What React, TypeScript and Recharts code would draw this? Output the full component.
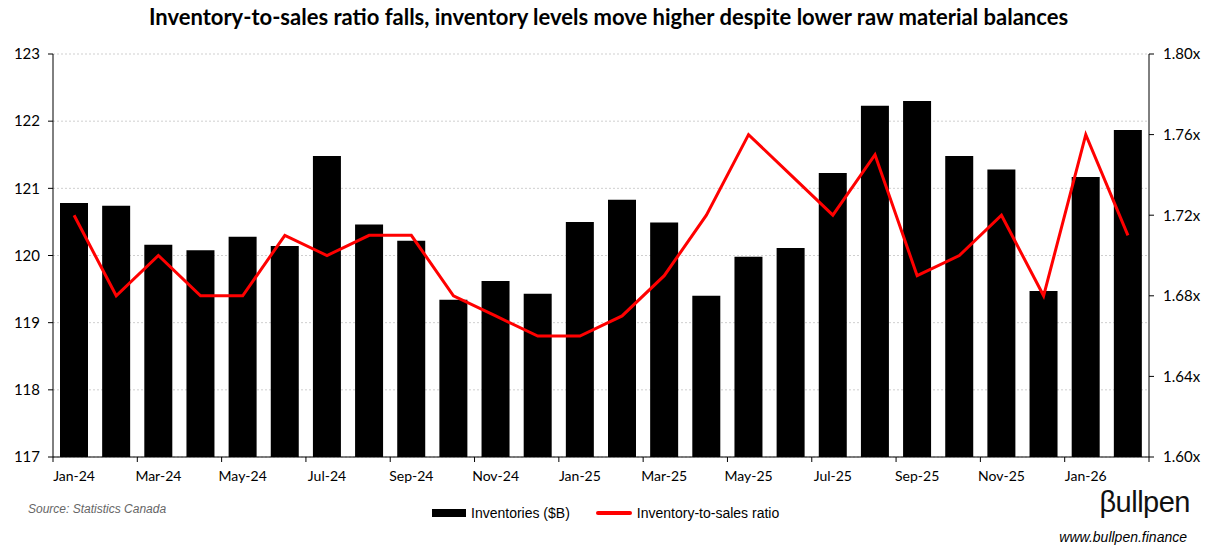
import { ComposedChart, Bar, Line, XAxis, YAxis, CartesianGrid } from 'recharts';

const months = [
  'Jan-24', 'Feb-24', 'Mar-24', 'Apr-24', 'May-24', 'Jun-24', 'Jul-24', 'Aug-24', 'Sep-24', 'Oct-24', 'Nov-24', 'Dec-24',
  'Jan-25', 'Feb-25', 'Mar-25', 'Apr-25', 'May-25', 'Jun-25', 'Jul-25', 'Aug-25', 'Sep-25', 'Oct-25', 'Nov-25', 'Dec-25',
  'Jan-26', 'Feb-26',
];

const inventories = [
  120.78, 120.74, 120.16, 120.08, 120.28, 120.14, 121.48, 120.46, 120.22, 119.34, 119.62, 119.43,
  120.5, 120.83, 120.49, 119.4, 119.98, 120.11, 121.23, 122.23, 122.3, 121.48, 121.28, 119.47,
  121.17, 121.87,
];

const ratio = [
  1.72, 1.68, 1.7, 1.68, 1.68, 1.71, 1.7, 1.71, 1.71, 1.68, 1.67, 1.66,
  1.66, 1.67, 1.69, 1.72, 1.76, 1.74, 1.72, 1.75, 1.69, 1.7, 1.72, 1.68,
  1.76, 1.71,
];

const leftTicks = [117, 118, 119, 120, 121, 122, 123];
const rightTicks = [1.6, 1.64, 1.68, 1.72, 1.76, 1.8];

const data = months.map((m, i) => ({ month: m, inventories: inventories[i], ratio: ratio[i] }));

const PLOT_LEFT = 53;
const PLOT_RIGHT = 1149;
const BAND = (PLOT_RIGHT - PLOT_LEFT) / months.length;

const tickFont = 'Lato, "Open Sans", sans-serif';
const sansFont = '"Liberation Sans", Arial, sans-serif';

// month labels on every other category, tick marks on the category edges (Excel style)
const MonthTick = (props: any) => {
  const { x, y, index, payload } = props;
  const showLabel = index % 2 === 0;
  const last = index === months.length - 1;
  return (
    <g>
      {showLabel && <line x1={x - BAND / 2} x2={x - BAND / 2} y1={y - 8} y2={y - 3} stroke="#000" />}
      {last && <line x1={x + BAND / 2} x2={x + BAND / 2} y1={y - 8} y2={y - 3} stroke="#000" />}
      {showLabel && (
        <text x={x} y={y + 16} textAnchor="middle" fontSize={14} fontFamily={tickFont} fill="#000">
          {payload.value}
        </text>
      )}
    </g>
  );
};

export default function App() {
  return (
    <div style={{ position: 'absolute', left: 0, top: 0, width: 1217, height: 558, background: '#fff' }}>
      <div
        style={{
          position: 'absolute', top: 3, left: 0, width: 1217, textAlign: 'center',
          fontFamily: tickFont, fontWeight: 700, fontSize: 22, color: '#000',
        }}
      >
        Inventory-to-sales ratio falls, inventory levels move higher despite lower raw material balances
      </div>
      <ComposedChart
        width={1217}
        height={558}
        data={data}
        margin={{ top: 54, right: 8, bottom: 71, left: 0 }}
      >
        <CartesianGrid yAxisId="left" vertical={false} stroke="#cfcfcf" strokeDasharray="2 2" />
        <XAxis
          dataKey="month"
          interval={0}
          height={30}
          tickLine={false}
          axisLine={{ stroke: '#000' }}
          tick={<MonthTick />}
        />
        <YAxis
          yAxisId="left"
          width={53}
          domain={[117, 123]}
          ticks={leftTicks}
          tickLine={{ stroke: '#000' }}
          tickSize={5}
          tickMargin={8}
          axisLine={{ stroke: '#000' }}
          tick={{ fontSize: 15, fontFamily: tickFont, fill: '#000' }}
        />
        <YAxis
          yAxisId="right"
          orientation="right"
          width={60}
          domain={[1.6, 1.8]}
          ticks={rightTicks}
          tickFormatter={(v: number) => v.toFixed(2) + 'x'}
          tickLine={{ stroke: '#000' }}
          tickSize={5}
          tickMargin={9}
          axisLine={{ stroke: '#000' }}
          tick={{ fontSize: 15, fontFamily: tickFont, fill: '#000' }}
        />
        <Bar yAxisId="left" dataKey="inventories" fill="#000" barSize={28} isAnimationActive={false} />
        <Line
          yAxisId="right"
          dataKey="ratio"
          stroke="#ff0000"
          strokeWidth={3}
          dot={false}
          activeDot={false}
          type="linear"
          isAnimationActive={false}
        />
      </ComposedChart>
      <div
        style={{
          position: 'absolute', top: 505, left: 432, display: 'flex', alignItems: 'center',
          fontFamily: sansFont, fontSize: 14, color: '#000',
        }}
      >
        <span style={{ width: 34, height: 8, background: '#000', display: 'inline-block', marginRight: 5 }} />
        <span style={{ marginRight: 26 }}>Inventories ($B)</span>
        <span style={{ width: 36, height: 4, borderRadius: 2, background: '#ff0000', display: 'inline-block', marginRight: 5 }} />
        <span>Inventory-to-sales ratio</span>
      </div>
      <div
        style={{
          position: 'absolute', left: 28, top: 502, fontFamily: sansFont, fontStyle: 'italic',
          fontSize: 12, color: '#666',
        }}
      >
        Source: Statistics Canada
      </div>
      <div
        style={{
          position: 'absolute', right: 27, top: 486, fontFamily: sansFont, fontSize: 29,
          color: '#111', letterSpacing: -0.5,
        }}
      >
        βullpen
      </div>
      <div
        style={{
          position: 'absolute', right: 30, top: 529, fontFamily: sansFont, fontStyle: 'italic',
          fontSize: 14, color: '#000',
        }}
      >
        www.bullpen.finance
      </div>
    </div>
  );
}
